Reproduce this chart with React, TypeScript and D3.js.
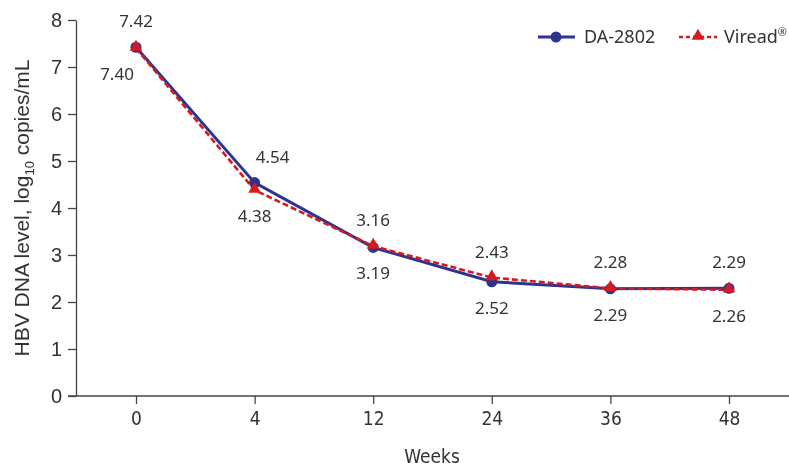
import React, { useEffect, useRef } from 'react';
import * as d3 from 'd3';

// chart data
const weeks = ['0', '4', '12', '24', '36', '48'];
const da2802 = [7.42, 4.54, 3.16, 2.43, 2.28, 2.29];
const viread = [7.40, 4.38, 3.19, 2.52, 2.29, 2.26];
const yTicks = [0, 1, 2, 3, 4, 5, 6, 7, 8];

const BLUE = '#2b3590';
const RED = '#d71920';
const TEXT = '#333333';
const LABEL_FONT = '"Noto Sans", Roboto, sans-serif';
const SANS = '"Liberation Sans", Arial, sans-serif';
const NARROW = '"DejaVu Sans Condensed", "Liberation Sans", sans-serif';

const App = () => {
  const chartRef = useRef<SVGSVGElement>(null);

  useEffect(() => {
    const width = 789;
    const height = 469;
    const marginLeft = 76;
    const marginTop = 20;
    const axisY = 396;

    const svg = d3.select(chartRef.current);
    svg.selectAll('*').remove();

    const x = d3.scalePoint<string>()
      .domain(weeks)
      .range([136, 729]);

    const y = d3.scaleLinear()
      .domain([0, 8])
      .range([axisY, marginTop]);

    // y axis
    const gy = svg.append('g')
      .attr('transform', `translate(${marginLeft},0)`)
      .call(d3.axisLeft(y).tickValues(yTicks).tickSize(8).tickPadding(6).tickSizeOuter(0));
    gy.select('.domain').attr('stroke', '#444').attr('stroke-width', 1.3);
    gy.selectAll('.tick line').attr('stroke', '#444').attr('stroke-width', 1.3);
    gy.selectAll('.tick text')
      .attr('fill', TEXT)
      .style('font-family', SANS)
      .style('font-size', '20px');

    // x axis (line runs to the right edge)
    svg.append('line')
      .attr('x1', marginLeft - 8).attr('x2', width)
      .attr('y1', axisY).attr('y2', axisY)
      .attr('stroke', '#444').attr('stroke-width', 1.3);
    const gx = svg.append('g')
      .attr('transform', `translate(0,${axisY})`)
      .call(d3.axisBottom(x).tickSize(8).tickPadding(8).tickSizeOuter(0));
    gx.select('.domain').remove();
    gx.selectAll('.tick line').attr('stroke', '#444').attr('stroke-width', 1.3);
    gx.selectAll('.tick text')
      .attr('fill', TEXT)
      .style('font-family', NARROW)
      .style('font-size', '19px');

    // axis titles
    svg.append('text')
      .attr('x', 432).attr('y', 463)
      .attr('text-anchor', 'middle')
      .attr('fill', TEXT)
      .style('font-family', NARROW)
      .style('font-size', '19px')
      .text('Weeks');

    const yTitle = svg.append('text')
      .attr('transform', `translate(29,${(axisY + marginTop) / 2}) rotate(-90)`)
      .attr('text-anchor', 'middle')
      .attr('fill', TEXT)
      .style('font-family', SANS)
      .style('font-size', '21px');
    yTitle.append('tspan').text('HBV DNA level, log');
    yTitle.append('tspan').attr('dy', 5).style('font-size', '13px').text('10');
    yTitle.append('tspan').attr('dy', -5).text(' copies/mL');

    const line = d3.line<number>()
      .x((d, i) => x(weeks[i]) as number)
      .y(d => y(d));

    // series lines
    svg.append('path')
      .datum(da2802)
      .attr('d', line)
      .attr('fill', 'none')
      .attr('stroke', BLUE)
      .attr('stroke-width', 3);

    svg.append('path')
      .datum(viread)
      .attr('d', line)
      .attr('fill', 'none')
      .attr('stroke', RED)
      .attr('stroke-width', 2.6)
      .attr('stroke-dasharray', '6,3');

    // markers
    svg.selectAll('circle.da')
      .data(da2802)
      .join('circle')
      .attr('class', 'da')
      .attr('cx', (d, i) => x(weeks[i]) as number)
      .attr('cy', d => y(d))
      .attr('r', 5.5)
      .attr('fill', BLUE);

    const tri = d3.symbol().type(d3.symbolTriangle).size(70);
    svg.selectAll('path.vi')
      .data(viread)
      .join('path')
      .attr('class', 'vi')
      .attr('d', tri)
      .attr('transform', (d, i) => `translate(${x(weeks[i])},${y(d) - 1})`)
      .attr('fill', RED);

    // value labels: DA-2802 above, Viread below
    const aboveDx = [0, 18, 0, 0, 0, 0];
    const belowDx = [-19, 0, 0, 0, 0, 0];
    weeks.forEach((w, i) => {
      const top = Math.min(y(da2802[i]), y(viread[i]));
      const bottom = Math.max(y(da2802[i]), y(viread[i]));
      svg.append('text')
        .attr('x', (x(w) as number) + aboveDx[i])
        .attr('y', top - 26)
        .attr('dy', '0.35em')
        .attr('text-anchor', 'middle')
        .attr('fill', TEXT)
        .style('font-family', LABEL_FONT)
        .style('font-size', '17px')
        .text(da2802[i].toFixed(2));
      svg.append('text')
        .attr('x', (x(w) as number) + belowDx[i])
        .attr('y', bottom + 26)
        .attr('dy', '0.35em')
        .attr('text-anchor', 'middle')
        .attr('fill', TEXT)
        .style('font-family', LABEL_FONT)
        .style('font-size', '17px')
        .text(viread[i].toFixed(2));
    });

    // legend
    const legend = svg.append('g').attr('transform', 'translate(0,37)');
    legend.append('line')
      .attr('x1', 538).attr('x2', 575)
      .attr('stroke', BLUE).attr('stroke-width', 3);
    legend.append('circle')
      .attr('cx', 556).attr('r', 5.5).attr('fill', BLUE);
    legend.append('text')
      .attr('x', 584).attr('dy', '0.35em')
      .attr('fill', TEXT)
      .style('font-family', LABEL_FONT)
      .style('font-size', '18px')
      .text('DA-2802');

    legend.append('line')
      .attr('x1', 679).attr('x2', 717)
      .attr('stroke', RED).attr('stroke-width', 2.6)
      .attr('stroke-dasharray', '4,3');
    legend.append('path')
      .attr('d', tri)
      .attr('transform', 'translate(698,-1)')
      .attr('fill', RED);
    const vt = legend.append('text')
      .attr('x', 724).attr('dy', '0.35em')
      .attr('fill', TEXT)
      .style('font-family', LABEL_FONT)
      .style('font-size', '18px');
    vt.append('tspan').text('Viread');
    vt.append('tspan').attr('dy', -7).style('font-size', '11px').text('®');

    svg.attr('width', width).attr('height', height);
  }, []);

  return (
    <div style={{ position: 'fixed', left: 0, top: 0, width: 789, height: 469, overflow: 'hidden' }}>
      <svg ref={chartRef} width={789} height={469} style={{ display: 'block' }}></svg>
    </div>
  );
};

export default App;
